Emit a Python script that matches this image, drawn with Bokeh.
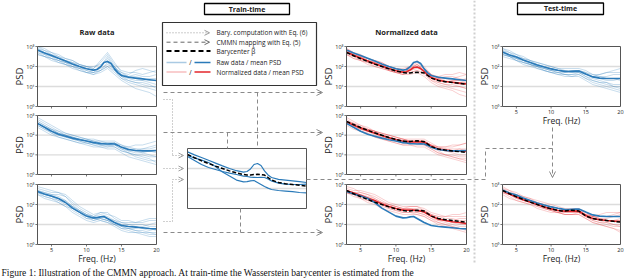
from bokeh.plotting import figure
from bokeh.models import Range1d, Arrow, OpenHead
from bokeh.core.properties import value
from bokeh.embed import file_html
from bokeh.resources import INLINE

# ---------------- data (log10 PSD) ----------------
FREQ = [3, 4, 5, 6, 7, 8, 9, 10, 11, 12, 13, 14, 15, 16, 17, 18, 19, 20]
FREQ_MEAN = [3, 4, 5, 6, 7, 8, 9, 10, 11, 11.5, 12, 12.5, 13, 13.5, 14, 14.5, 15, 16, 17, 18, 19, 20]
XLIM = [3, 20]
YLIM = [0, 3]
X_TICKS = [5, 10, 15, 20]
X_TICK_LABELS = ["5", "10", "15", "20"]
Y_TICKS = [0, 1, 2, 3]
Y_TICK_LABELS = ["10\u2070", "10\u00b9", "10\u00b2", "10\u00b3"]
GRID_Y = [1, 2]

R1_MEAN = [2.83, 2.68, 2.55, 2.41, 2.27, 2.13, 2.0, 1.89, 1.82, 1.85, 1.98, 2.2, 2.25, 2.15, 1.88, 1.68, 1.55, 1.46, 1.42, 1.38, 1.34, 1.30]
R2_MEAN = [2.6, 2.4, 2.2, 2.05, 1.95, 1.85, 1.77, 1.7, 1.62, 1.6, 1.57, 1.56, 1.55, 1.56, 1.55, 1.48, 1.38, 1.27, 1.22, 1.2, 1.2, 1.22]
R3_MEAN = [2.65, 2.53, 2.42, 2.3, 2.1, 1.82, 1.62, 1.42, 1.33, 1.34, 1.38, 1.4, 1.3, 1.2, 1.1, 1.02, 0.95, 0.9, 0.87, 0.84, 0.8, 0.78]
T1_MEAN = [2.72, 2.58, 2.47, 2.33, 2.2, 2.07, 1.97, 1.88, 1.81, 1.78, 1.75, 1.75, 1.76, 1.77, 1.77, 1.7, 1.62, 1.48, 1.42, 1.4, 1.4, 1.4]
BARY = [2.7, 2.54, 2.39, 2.25, 2.12, 2.0, 1.88, 1.78, 1.7, 1.68, 1.68, 1.7, 1.71, 1.7, 1.67, 1.55, 1.42, 1.3, 1.24, 1.2, 1.16, 1.12]
N1_MEAN = [2.72, 2.56, 2.42, 2.28, 2.14, 2.02, 1.9, 1.79, 1.72, 1.74, 1.82, 1.95, 1.97, 1.9, 1.75, 1.58, 1.45, 1.32, 1.25, 1.21, 1.17, 1.13]
N2_MEAN = [2.68, 2.5, 2.36, 2.22, 2.1, 1.98, 1.87, 1.77, 1.69, 1.67, 1.65, 1.65, 1.66, 1.66, 1.64, 1.54, 1.43, 1.3, 1.24, 1.2, 1.19, 1.18]
N3_MEAN = [2.7, 2.58, 2.46, 2.33, 2.2, 2.03, 1.9, 1.8, 1.72, 1.72, 1.72, 1.72, 1.7, 1.67, 1.62, 1.52, 1.42, 1.28, 1.2, 1.14, 1.1, 1.05]
T2_MEAN = [2.7, 2.52, 2.38, 2.24, 2.12, 2.0, 1.88, 1.78, 1.7, 1.68, 1.66, 1.66, 1.67, 1.67, 1.66, 1.56, 1.45, 1.3, 1.24, 1.2, 1.17, 1.15]

R1_TRACES = [
    [2.9, 2.8, 2.7, 2.5, 2.4, 2.3, 2.1, 2.0, 1.9, 2.2, 2.6, 2.1, 1.8, 1.7, 1.7, 1.6, 1.7, 1.8],
    [2.7, 2.6, 2.4, 2.3, 2.1, 2.0, 1.9, 1.8, 1.7, 1.8, 2.0, 1.7, 1.4, 1.2, 1.1, 1.0, 0.9, 0.8],
    [3.0, 2.9, 2.7, 2.6, 2.4, 2.3, 2.1, 2.0, 1.9, 2.3, 2.7, 2.2, 1.7, 1.5, 1.4, 1.3, 1.2, 1.1],
    [2.6, 2.5, 2.3, 2.2, 2.1, 1.9, 1.8, 1.7, 1.6, 1.7, 1.9, 1.6, 1.3, 1.1, 0.9, 0.8, 0.7, 0.5],
    [2.8, 2.7, 2.6, 2.4, 2.3, 2.2, 2.0, 1.9, 1.8, 2.0, 2.4, 2.0, 1.6, 1.5, 1.5, 1.4, 1.3, 1.3],
    [2.7, 2.5, 2.4, 2.3, 2.2, 2.0, 1.9, 1.9, 1.8, 1.9, 2.1, 1.9, 1.7, 1.6, 1.8, 1.9, 1.8, 1.7],
    [2.9, 2.7, 2.5, 2.3, 2.2, 2.1, 1.9, 1.7, 1.6, 1.8, 2.2, 1.8, 1.4, 1.3, 1.2, 1.1, 1.0, 1.0],
    [2.8, 2.6, 2.5, 2.4, 2.2, 2.1, 2.0, 1.8, 1.7, 2.0, 2.5, 2.0, 1.5, 1.3, 1.2, 1.2, 1.1, 0.9],
    [2.6, 2.5, 2.4, 2.2, 2.1, 2.0, 1.8, 1.7, 1.7, 1.8, 2.0, 1.8, 1.5, 1.4, 1.3, 1.3, 1.4, 1.4],
    [3.0, 2.8, 2.6, 2.5, 2.3, 2.2, 2.1, 2.0, 2.0, 2.1, 2.3, 2.0, 1.6, 1.5, 1.6, 1.5, 1.5, 1.6],
]
R2_TRACES = [
    [2.7, 2.5, 2.3, 2.1, 2.0, 1.9, 1.8, 1.8, 1.7, 1.6, 1.6, 1.6, 1.4, 1.3, 1.3, 1.3, 1.4, 1.5],
    [2.5, 2.3, 2.1, 1.9, 1.8, 1.7, 1.6, 1.5, 1.4, 1.4, 1.3, 1.3, 1.1, 0.9, 0.8, 0.7, 0.6, 0.5],
    [2.8, 2.6, 2.4, 2.2, 2.1, 2.0, 1.9, 1.8, 1.7, 1.7, 1.7, 1.7, 1.5, 1.4, 1.3, 1.2, 1.2, 1.1],
    [2.4, 2.2, 2.0, 1.9, 1.8, 1.7, 1.6, 1.6, 1.5, 1.4, 1.4, 1.4, 1.2, 1.1, 1.0, 0.9, 0.8, 0.6],
    [2.6, 2.4, 2.3, 2.2, 2.0, 1.9, 1.8, 1.7, 1.6, 1.6, 1.5, 1.6, 1.4, 1.4, 1.5, 1.5, 1.6, 1.7],
    [2.6, 2.4, 2.1, 2.0, 1.9, 1.8, 1.8, 1.7, 1.6, 1.5, 1.5, 1.4, 1.2, 1.1, 1.0, 1.0, 0.9, 0.9],
    [2.9, 2.7, 2.5, 2.3, 2.1, 2.0, 1.9, 1.8, 1.8, 1.7, 1.6, 1.6, 1.5, 1.3, 1.2, 1.1, 1.0, 0.9],
    [2.5, 2.3, 2.2, 2.0, 1.9, 1.8, 1.7, 1.6, 1.6, 1.5, 1.5, 1.5, 1.3, 1.2, 1.2, 1.3, 1.3, 1.4],
    [2.7, 2.5, 2.3, 2.1, 2.0, 1.8, 1.7, 1.6, 1.5, 1.5, 1.4, 1.5, 1.3, 1.1, 0.9, 0.8, 0.7, 0.7],
    [2.6, 2.4, 2.2, 2.1, 2.0, 1.9, 1.8, 1.7, 1.7, 1.6, 1.6, 1.6, 1.4, 1.2, 1.1, 1.1, 1.2, 1.2],
]
R3_TRACES = [
    [2.7, 2.6, 2.5, 2.5, 2.4, 2.1, 1.8, 1.6, 1.4, 1.5, 1.4, 1.2, 1.0, 0.9, 0.9, 0.8, 0.8, 0.7],
    [2.5, 2.4, 2.3, 2.1, 1.9, 1.6, 1.4, 1.2, 1.1, 1.2, 1.1, 0.9, 0.7, 0.6, 0.6, 0.5, 0.4, 0.4],
    [2.8, 2.7, 2.6, 2.6, 2.5, 2.2, 1.9, 1.7, 1.5, 1.6, 1.5, 1.4, 1.2, 1.2, 1.1, 1.1, 1.2, 1.2],
    [2.6, 2.5, 2.4, 2.2, 2.0, 1.7, 1.5, 1.3, 1.3, 1.3, 1.2, 1.0, 0.9, 0.8, 0.7, 0.7, 0.6, 0.5],
    [2.7, 2.6, 2.5, 2.4, 2.2, 1.9, 1.7, 1.5, 1.4, 1.6, 1.6, 1.3, 1.1, 1.0, 1.0, 1.0, 0.9, 0.9],
    [2.5, 2.3, 2.2, 2.1, 1.9, 1.8, 1.6, 1.4, 1.3, 1.2, 1.1, 1.0, 0.8, 0.8, 0.8, 0.9, 1.0, 1.1],
    [2.9, 2.8, 2.7, 2.6, 2.4, 2.0, 1.7, 1.5, 1.3, 1.4, 1.3, 1.1, 0.9, 0.8, 0.7, 0.6, 0.6, 0.6],
    [2.6, 2.4, 2.3, 2.2, 2.1, 1.8, 1.6, 1.4, 1.2, 1.3, 1.2, 1.1, 1.0, 1.0, 0.9, 0.8, 0.7, 0.8],
    [2.7, 2.5, 2.4, 2.3, 2.1, 1.9, 1.7, 1.5, 1.4, 1.4, 1.3, 1.2, 1.1, 1.1, 1.1, 1.2, 1.3, 1.3],
    [2.6, 2.5, 2.4, 2.3, 2.2, 1.9, 1.6, 1.3, 1.2, 1.3, 1.2, 1.0, 0.8, 0.7, 0.6, 0.6, 0.5, 0.5],
]
T1_TRACES = [
    [2.8, 2.7, 2.5, 2.4, 2.3, 2.1, 2.0, 1.9, 1.8, 1.8, 1.8, 1.8, 1.7, 1.6, 1.6, 1.7, 1.8, 1.9],
    [2.6, 2.5, 2.3, 2.2, 2.1, 1.9, 1.8, 1.7, 1.7, 1.6, 1.6, 1.6, 1.4, 1.2, 1.1, 1.0, 0.9, 0.8],
    [2.9, 2.8, 2.6, 2.5, 2.3, 2.2, 2.1, 2.0, 1.9, 1.9, 1.9, 1.9, 1.8, 1.6, 1.5, 1.4, 1.4, 1.3],
    [2.5, 2.4, 2.3, 2.1, 2.0, 1.9, 1.8, 1.7, 1.6, 1.5, 1.5, 1.6, 1.4, 1.3, 1.2, 1.1, 1.0, 0.9],
    [2.7, 2.6, 2.5, 2.3, 2.2, 2.1, 2.0, 1.9, 1.8, 1.8, 1.7, 1.8, 1.6, 1.5, 1.5, 1.5, 1.6, 1.6],
    [2.8, 2.6, 2.4, 2.3, 2.2, 2.0, 1.9, 1.8, 1.7, 1.7, 1.7, 1.7, 1.5, 1.3, 1.2, 1.2, 1.1, 1.1],
    [2.6, 2.5, 2.4, 2.3, 2.1, 2.0, 1.9, 1.8, 1.8, 1.7, 1.8, 1.8, 1.7, 1.5, 1.4, 1.3, 1.3, 1.4],
    [2.9, 2.7, 2.6, 2.4, 2.3, 2.2, 2.1, 2.0, 1.9, 1.8, 1.7, 1.7, 1.5, 1.4, 1.3, 1.2, 1.0, 1.0],
    [2.7, 2.5, 2.3, 2.2, 2.1, 2.0, 1.9, 1.8, 1.7, 1.6, 1.6, 1.7, 1.6, 1.5, 1.6, 1.7, 1.7, 1.7],
    [2.6, 2.5, 2.4, 2.2, 2.1, 2.0, 1.8, 1.7, 1.6, 1.6, 1.5, 1.5, 1.3, 1.1, 1.0, 0.9, 0.8, 0.7],
]
N1_TRACES = [
    [2.8, 2.6, 2.5, 2.4, 2.2, 2.1, 2.0, 1.9, 1.8, 2.0, 2.2, 1.9, 1.6, 1.5, 1.4, 1.4, 1.5, 1.6],
    [2.6, 2.5, 2.3, 2.2, 2.0, 1.9, 1.8, 1.7, 1.6, 1.7, 1.8, 1.6, 1.3, 1.1, 1.0, 0.9, 0.8, 0.7],
    [2.9, 2.7, 2.6, 2.4, 2.3, 2.2, 2.0, 1.9, 1.8, 2.0, 2.3, 2.0, 1.6, 1.4, 1.3, 1.2, 1.1, 1.1],
    [2.6, 2.4, 2.3, 2.1, 2.0, 1.9, 1.8, 1.7, 1.6, 1.6, 1.7, 1.5, 1.2, 1.0, 0.9, 0.8, 0.6, 0.5],
    [2.7, 2.6, 2.4, 2.3, 2.2, 2.0, 1.9, 1.8, 1.7, 1.9, 2.1, 1.8, 1.5, 1.4, 1.4, 1.3, 1.3, 1.2],
    [2.7, 2.5, 2.4, 2.3, 2.1, 2.0, 1.9, 1.8, 1.7, 1.8, 1.9, 1.8, 1.5, 1.5, 1.6, 1.6, 1.7, 1.6],
    [2.8, 2.6, 2.4, 2.3, 2.2, 2.0, 1.8, 1.7, 1.6, 1.8, 2.0, 1.7, 1.3, 1.2, 1.1, 1.0, 1.0, 0.9],
    [2.7, 2.6, 2.5, 2.3, 2.2, 2.1, 1.9, 1.8, 1.7, 1.9, 2.1, 1.8, 1.4, 1.2, 1.1, 1.1, 1.0, 0.9],
    [2.6, 2.4, 2.3, 2.2, 2.1, 2.0, 1.8, 1.7, 1.7, 1.7, 1.8, 1.7, 1.4, 1.3, 1.2, 1.3, 1.3, 1.4],
    [2.9, 2.7, 2.5, 2.4, 2.3, 2.2, 2.0, 1.9, 1.9, 2.0, 2.1, 1.9, 1.6, 1.4, 1.5, 1.5, 1.4, 1.3],
]
N2_TRACES = [
    [2.7, 2.5, 2.4, 2.3, 2.2, 2.1, 2.0, 1.9, 1.8, 1.7, 1.7, 1.7, 1.5, 1.4, 1.4, 1.4, 1.5, 1.6],
    [2.6, 2.4, 2.2, 2.1, 1.9, 1.8, 1.7, 1.6, 1.5, 1.5, 1.4, 1.4, 1.2, 1.0, 0.9, 0.8, 0.7, 0.6],
    [2.8, 2.6, 2.5, 2.4, 2.2, 2.1, 2.0, 1.9, 1.8, 1.8, 1.8, 1.8, 1.6, 1.4, 1.3, 1.2, 1.2, 1.1],
    [2.5, 2.3, 2.2, 2.1, 1.9, 1.8, 1.7, 1.6, 1.5, 1.5, 1.5, 1.5, 1.3, 1.1, 1.0, 0.9, 0.8, 0.7],
    [2.7, 2.6, 2.4, 2.3, 2.2, 2.0, 1.9, 1.8, 1.7, 1.7, 1.7, 1.7, 1.5, 1.4, 1.4, 1.5, 1.5, 1.6],
    [2.6, 2.5, 2.3, 2.2, 2.1, 2.0, 1.9, 1.8, 1.7, 1.6, 1.6, 1.5, 1.3, 1.1, 1.0, 1.0, 0.9, 0.9],
    [2.9, 2.7, 2.5, 2.3, 2.2, 2.1, 2.0, 1.9, 1.8, 1.7, 1.7, 1.7, 1.5, 1.3, 1.2, 1.1, 1.0, 1.0],
    [2.6, 2.4, 2.3, 2.2, 2.1, 1.9, 1.8, 1.7, 1.6, 1.6, 1.6, 1.6, 1.4, 1.3, 1.3, 1.3, 1.3, 1.3],
    [2.7, 2.5, 2.3, 2.2, 2.0, 1.9, 1.8, 1.7, 1.6, 1.6, 1.6, 1.6, 1.4, 1.2, 1.0, 0.9, 0.8, 0.8],
    [2.7, 2.6, 2.4, 2.3, 2.2, 2.0, 1.9, 1.8, 1.8, 1.7, 1.7, 1.7, 1.5, 1.3, 1.2, 1.2, 1.3, 1.2],
]
N3_TRACES = [
    [2.7, 2.6, 2.6, 2.5, 2.4, 2.2, 2.0, 1.9, 1.8, 1.8, 1.8, 1.7, 1.5, 1.3, 1.2, 1.1, 1.1, 1.0],
    [2.6, 2.4, 2.3, 2.1, 2.0, 1.8, 1.7, 1.6, 1.5, 1.5, 1.5, 1.4, 1.2, 1.0, 0.9, 0.8, 0.7, 0.6],
    [2.8, 2.7, 2.7, 2.6, 2.5, 2.3, 2.1, 2.0, 1.9, 1.9, 1.9, 1.8, 1.6, 1.5, 1.4, 1.4, 1.4, 1.4],
    [2.6, 2.5, 2.4, 2.2, 2.1, 1.9, 1.8, 1.7, 1.6, 1.6, 1.5, 1.4, 1.2, 1.1, 1.0, 0.9, 0.8, 0.7],
    [2.7, 2.6, 2.5, 2.4, 2.3, 2.1, 2.0, 1.9, 1.8, 1.9, 1.9, 1.7, 1.5, 1.4, 1.3, 1.3, 1.2, 1.2],
    [2.6, 2.5, 2.3, 2.2, 2.1, 2.0, 1.9, 1.8, 1.7, 1.7, 1.6, 1.5, 1.3, 1.2, 1.2, 1.2, 1.3, 1.3],
    [2.9, 2.8, 2.6, 2.5, 2.3, 2.1, 1.9, 1.8, 1.7, 1.7, 1.7, 1.6, 1.4, 1.2, 1.1, 1.0, 0.9, 0.9],
    [2.6, 2.5, 2.4, 2.3, 2.2, 2.0, 1.9, 1.8, 1.7, 1.7, 1.7, 1.6, 1.4, 1.3, 1.2, 1.1, 1.0, 1.0],
    [2.7, 2.6, 2.4, 2.3, 2.2, 2.1, 2.0, 1.9, 1.8, 1.8, 1.7, 1.7, 1.5, 1.4, 1.4, 1.5, 1.5, 1.6],
    [2.6, 2.5, 2.4, 2.3, 2.2, 2.0, 1.8, 1.7, 1.6, 1.6, 1.6, 1.5, 1.3, 1.1, 1.0, 0.9, 0.8, 0.8],
]
T2_TRACES = [
    [2.8, 2.6, 2.5, 2.3, 2.2, 2.1, 2.0, 1.9, 1.8, 1.7, 1.7, 1.7, 1.5, 1.4, 1.3, 1.3, 1.4, 1.5],
    [2.6, 2.4, 2.2, 2.1, 2.0, 1.8, 1.7, 1.6, 1.6, 1.5, 1.5, 1.5, 1.3, 1.1, 1.0, 0.9, 0.8, 0.7],
    [2.9, 2.7, 2.6, 2.4, 2.3, 2.2, 2.1, 2.0, 1.9, 1.8, 1.8, 1.8, 1.6, 1.4, 1.3, 1.2, 1.2, 1.2],
    [2.5, 2.3, 2.2, 2.1, 2.0, 1.9, 1.8, 1.7, 1.6, 1.5, 1.5, 1.6, 1.4, 1.2, 1.1, 1.0, 0.9, 0.9],
    [2.7, 2.6, 2.4, 2.3, 2.2, 2.0, 1.9, 1.8, 1.7, 1.7, 1.7, 1.7, 1.5, 1.4, 1.4, 1.4, 1.5, 1.6],
    [2.7, 2.5, 2.4, 2.2, 2.1, 2.0, 1.9, 1.8, 1.7, 1.6, 1.6, 1.6, 1.4, 1.2, 1.1, 1.1, 1.0, 1.0],
    [2.6, 2.5, 2.4, 2.3, 2.1, 2.0, 1.9, 1.8, 1.7, 1.7, 1.7, 1.7, 1.6, 1.4, 1.3, 1.2, 1.2, 1.3],
    [2.8, 2.7, 2.5, 2.4, 2.3, 2.1, 2.0, 1.9, 1.8, 1.7, 1.7, 1.6, 1.4, 1.3, 1.2, 1.1, 1.0, 0.9],
    [2.6, 2.5, 2.3, 2.2, 2.1, 2.0, 1.8, 1.7, 1.6, 1.6, 1.6, 1.6, 1.5, 1.4, 1.5, 1.6, 1.6, 1.6],
    [2.7, 2.5, 2.3, 2.2, 2.1, 1.9, 1.8, 1.7, 1.6, 1.5, 1.5, 1.5, 1.3, 1.1, 1.0, 0.9, 0.8, 0.6],
]

TITLES = ["Raw data", "Normalized data"]
BOX_TITLES = ["Train-time", "Test-time"]
LEGEND_LABELS = ["Bary. computation with Eq. (6)", "CMMN mapping with Eq. (5)",
                 "Barycenter \u03b2\u0304", "Raw data / mean PSD", "Normalized data / mean PSD"]
CAPTION = ("Figure 1:  Illustration of the CMMN approach.  At train-time the Wasserstein "
           "barycenter is estimated from the")

# ---------------- style ----------------
FONT = value("Open Sans")
BLUE = "#2a7ab9"
RED = "#e3262b"
TXT = "#222222"
GREY = "#8a8a8a"
FRAME = "#555555"

# panel boxes in picture pixels: (left, right, top, bottom)
BOXES = {
    "R1": (37, 156, 46, 106), "R2": (37, 156, 115, 174), "R3": (37, 156, 184, 244),
    "N1": (346, 466, 46, 106), "N2": (346, 466, 115, 174), "N3": (346, 466, 184, 244),
    "T1": (502, 620, 46, 106), "T2": (502, 620, 184, 244),
    "B": (187, 306, 148, 208),
}

p = figure(width=640, height=280, x_range=Range1d(0, 640), y_range=Range1d(280, 0),
           x_axis_type=None, y_axis_type=None, output_backend="svg",
           toolbar_location=None, min_border=0)
p.outline_line_color = None
p.background_fill_color = "white"
p.border_fill_color = "white"


def sub(key):
    x0, x1, yt, yb = BOXES[key]
    return p.subplot(x_source=Range1d(XLIM[0], XLIM[1]), y_source=Range1d(YLIM[0], YLIM[1]),
                     x_target=Range1d(x0, x1), y_target=Range1d(yb, yt))


def grid(sp):
    sp.segment(x0=XLIM[0], x1=XLIM[1], y0=GRID_Y, y1=GRID_Y, line_color="#dcdcdc", line_width=1.3)


def frame(sp, ticks=True, xlabels=False):
    sp.quad(left=XLIM[0], right=XLIM[1], bottom=YLIM[0], top=YLIM[1],
            fill_color=None, line_color=FRAME, line_width=1)
    if not ticks:
        return
    sp.segment(x0=X_TICKS[:-1], x1=X_TICKS[:-1], y0=YLIM[0], y1=YLIM[0] - 0.1,
               line_color=FRAME, line_width=0.8)
    sp.segment(x0=XLIM[0], x1=XLIM[0] - 0.3, y0=Y_TICKS, y1=Y_TICKS,
               line_color=FRAME, line_width=0.8)
    sp.text(x=XLIM[0], y=Y_TICKS, text=Y_TICK_LABELS, x_offset=-3, text_align="right",
            text_baseline="middle", text_font=FONT, text_font_size="5.5px", text_color=TXT)
    sp.text(x=XLIM[0], y=sum(YLIM) / 2, text=["PSD"], angle=1.5708, x_offset=-18,
            text_align="center", text_baseline="middle", text_font=FONT,
            text_font_size="9.5px", text_color=TXT)
    if xlabels:
        sp.text(x=X_TICKS, y=YLIM[0], text=X_TICK_LABELS, y_offset=3, text_align="center",
                text_baseline="top", text_font=FONT, text_font_size="5.5px", text_color=TXT)
        sp.text(x=sum(XLIM) / 2, y=YLIM[0], text=["Freq. (Hz)"], y_offset=8, text_align="center",
                text_baseline="top", text_font=FONT, text_font_size="8.5px", text_color=TXT)


# raw / test panels (blue)
for key, traces, mean, xl in [("R1", R1_TRACES, R1_MEAN, False), ("R2", R2_TRACES, R2_MEAN, False),
                              ("R3", R3_TRACES, R3_MEAN, True), ("T1", T1_TRACES, T1_MEAN, True)]:
    sp = sub(key)
    grid(sp)
    sp.multi_line(xs=[FREQ] * len(traces), ys=traces, line_color=BLUE, line_alpha=0.33, line_width=0.8)
    sp.line(FREQ_MEAN, mean, line_color=BLUE, line_width=1.6)
    frame(sp, xlabels=xl)

# normalized panels (red)
for key, traces, mean, raw, xl in [("N1", N1_TRACES, N1_MEAN, R1_MEAN, False),
                                   ("N2", N2_TRACES, N2_MEAN, R2_MEAN, False),
                                   ("N3", N3_TRACES, N3_MEAN, R3_MEAN, True),
                                   ("T2", T2_TRACES, T2_MEAN, T1_MEAN, True)]:
    sp = sub(key)
    grid(sp)
    sp.multi_line(xs=[FREQ] * len(traces), ys=traces, line_color=RED, line_alpha=0.28, line_width=0.8)
    sp.line(FREQ_MEAN, mean, line_color=RED, line_width=1.6)
    sp.line(FREQ_MEAN, raw, line_color=BLUE, line_width=1.6)
    sp.line(FREQ_MEAN, BARY, line_color="black", line_width=1.5, line_dash="4 2")
    frame(sp, xlabels=xl)

# barycenter panel
sp = sub("B")
grid(sp)
for m in (R1_MEAN, R2_MEAN, R3_MEAN):
    sp.line(FREQ_MEAN, m, line_color=BLUE, line_width=1.2)
sp.line(FREQ_MEAN, BARY, line_color="black", line_width=1.5, line_dash="4 2")
frame(sp, ticks=False)

# titles
for key, t in zip(["R1", "N1"], TITLES):
    s = sub(key)
    s.text(x=sum(XLIM) / 2, y=YLIM[1], text=[t], y_offset=-10, text_align="center",
           text_baseline="bottom", text_font=FONT, text_font_size="7.5px",
           text_font_style="bold", text_color=TXT)

# ---------------- diagram decorations (picture-pixel layout) ----------------
# phase boxes
p.quad(left=[204, 517], right=[289, 603], top=[3, 2.5], bottom=[14, 14],
       fill_color=None, line_color="black", line_width=1.3)
p.text(x=[246.5, 560], y=[8.5, 8.3], text=BOX_TITLES, text_align="center", text_baseline="middle",
       text_font=FONT, text_font_size="7px", text_font_style="bold", text_color=TXT)

# separator
p.line([474, 474], [0, 264], line_color="#cfcfcf", line_width=2, line_dash="2 2")

# legend
p.quad(left=162, right=316, top=22, bottom=85, fill_color="white", line_color="#333333", line_width=1.2)
LEG_Y = [32.3, 41.7, 50.6, 62, 71.5]
p.add_layout(Arrow(x_start=166, y_start=LEG_Y[0], x_end=209, y_end=LEG_Y[0], line_color="#999999",
                   line_width=1, line_dash="1 2",
                   end=OpenHead(size=5, line_color="#999999", line_width=1)))
p.add_layout(Arrow(x_start=166, y_start=LEG_Y[1], x_end=209, y_end=LEG_Y[1], line_color="#666666",
                   line_width=1, line_dash="4 3",
                   end=OpenHead(size=5, line_color="#666666", line_width=1)))
p.line([166, 210], [LEG_Y[2], LEG_Y[2]], line_color="black", line_width=2, line_dash="5 3")
p.line([166, 186], [LEG_Y[3], LEG_Y[3]], line_color=BLUE, line_alpha=0.4, line_width=1.3)
p.line([194, 210], [LEG_Y[3], LEG_Y[3]], line_color=BLUE, line_width=1.3)
p.line([166, 186], [LEG_Y[4], LEG_Y[4]], line_color=RED, line_alpha=0.3, line_width=1.3)
p.line([194, 210], [LEG_Y[4], LEG_Y[4]], line_color=RED, line_width=1.3)
p.text(x=[190, 190], y=LEG_Y[3:], text=["/", "/"], text_align="center", text_baseline="middle",
       text_font=FONT, text_font_size="6.5px", text_color=TXT)
p.text(x=216, y=LEG_Y, text=LEGEND_LABELS, text_align="left", text_baseline="middle",
       text_font=FONT, text_font_size="6.5px", text_color=TXT)

# dashed mapping arrows
for y in (92, 132, 232):
    p.add_layout(Arrow(x_start=163, y_start=y, x_end=322, y_end=y, line_color=GREY, line_width=1,
                       line_dash="4 3", end=OpenHead(size=6, line_color=GREY, line_width=1)))
p.multi_line(xs=[[257, 257], [227, 227], [240, 240], [306, 485, 485, 552]],
             ys=[[92, 148], [132, 148], [208, 232], [179, 179, 148, 148]],
             line_color=GREY, line_width=1, line_dash="4 3")
p.add_layout(Arrow(x_start=552, y_start=127, x_end=552, y_end=177, line_color=GREY, line_width=1,
                   line_dash="4 3", end=OpenHead(size=6, line_color=GREY, line_width=1)))

# dotted barycenter-computation arrows
DOT = "#a0a0a0"
p.multi_line(xs=[[163, 172, 172], [163, 172, 172]], ys=[[99, 99, 155], [221, 221, 179]],
             line_color=DOT, line_width=1, line_dash="1 2")
for (xs, ys, xe, ye) in [(172, 155, 183, 155), (163, 168, 183, 168), (172, 179, 183, 179)]:
    p.add_layout(Arrow(x_start=xs, y_start=ys, x_end=xe, y_end=ye, line_color=DOT, line_width=1,
                       line_dash="1 2", end=OpenHead(size=5, line_color=DOT, line_width=1)))

# caption, kept whole inside the picture
p.text(x=1, y=277.5, text=[CAPTION], text_align="left", text_baseline="bottom",
       text_font=value("Liberation Serif"), text_font_size="9.5px", text_color="#111111")

open("out.html", "w").write(file_html(p, INLINE))
